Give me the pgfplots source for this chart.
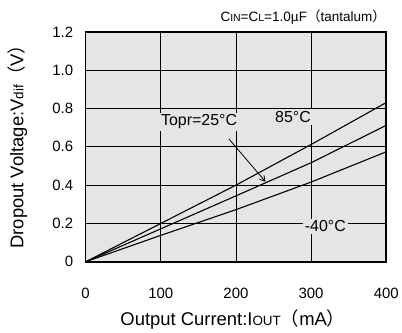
\documentclass[border=0pt]{standalone}
\usepackage{fontspec}
\setmainfont{Liberation Sans}
\newfontfamily\cjk{Noto Sans CJK JP}
\usepackage{pgfplots}
\pgfplotsset{compat=1.18}
\usetikzlibrary{arrows.meta}
\definecolor{bg}{RGB}{229,229,229}
\begin{document}
\begin{tikzpicture}
\begin{axis}[
  scale only axis,
  width=302pt, height=231pt,
  xmin=0, xmax=400, ymin=0, ymax=1.2,
  xtick={0,100,200,300,400},
  xticklabels={0,100,200,300,400},
  ytick={0,0.2,0.4,0.6,0.8,1.0,1.2},
  yticklabels={0,0.2,0.4,0.6,0.8,1.0,1.2},
  /pgf/number format/assume math mode=true,
  major tick length=0pt,
  grid=major,
  major grid style={black, line width=0.8pt},
  axis line style={black, line width=1.5pt},
  axis background/.style={fill=bg},
  tick label style={font=\fontsize{15}{17}\selectfont},
  xticklabel style={yshift=-23pt},
  yticklabel style={xshift=-9pt},
  xlabel={Output Current:I{\fontsize{13.5}{15}\selectfont OUT}{\cjk （}mA{\cjk ）}},
  ylabel={Dropout Voltage:V{\fontsize{13.5}{15}\selectfont dif}{\cjk （}V{\cjk ）}},
  every axis x label/.style={at={(rel axis cs:0.49,-0.252)}, anchor=center, font=\fontsize{18.5}{21}\selectfont},
  every axis y label/.style={at={(rel axis cs:-0.227,0.52)}, rotate=90, anchor=center, font=\fontsize{18.5}{21}\selectfont},
  clip=false,
]
\addplot[black, line width=1.1pt] coordinates {(0,0) (100,0.200) (200,0.400) (300,0.612) (400,0.831)};
\addplot[black, line width=1.1pt] coordinates {(0,0) (100,0.172) (200,0.344) (300,0.517) (400,0.712)};
\addplot[black, line width=1.1pt] coordinates {(0,0) (100,0.138) (200,0.272) (300,0.416) (400,0.574)};
\draw[black, line width=0.8pt, -{Straight Barb[length=5pt,width=6pt]}] (axis cs:190.7,0.641) -- (axis cs:239.3,0.418);
\node[fill=bg, inner sep=2pt, font=\fontsize{16}{18}\selectfont] at (axis cs:151,0.73) {Topr=25°C};
\node[fill=bg, inner sep=2pt, font=\fontsize{16}{18}\selectfont] at (axis cs:276,0.755) {85°C};
\node[fill=bg, inner sep=2pt, font=\fontsize{16}{18}\selectfont] at (axis cs:319,0.185) {-40°C};
\node[anchor=east, inner sep=0pt, font=\fontsize{13.6}{15}\selectfont] at (rel axis cs:1,1.062) {C{\fontsize{10.5}{12}\selectfont IN}=C{\fontsize{10.5}{12}\selectfont L}=1.0µF{\cjk （}tantalum{\cjk ）}};
\path (rel axis cs:-0.2848,-0.2987) rectangle (rel axis cs:1.0464,1.1385);
\end{axis}
\end{tikzpicture}
\end{document}
